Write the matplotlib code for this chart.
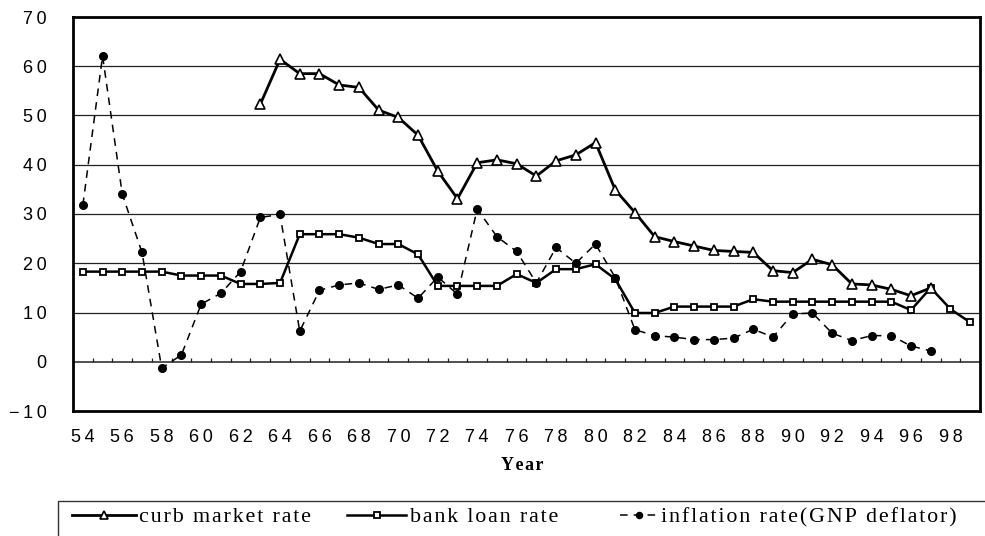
import numpy as np
import matplotlib
matplotlib.use("Agg")
import matplotlib.pyplot as plt
from matplotlib.patches import Rectangle

years = list(range(54, 100))

curb_years = list(range(63, 98))
curb_rate = [52.3, 61.4, 58.5, 58.5, 56.2, 55.7, 51.1, 49.6, 46.0, 38.7,
             33.1, 40.4, 41.0, 40.2, 37.7, 40.8, 42.0, 44.5, 34.9, 30.3,
             25.4, 24.4, 23.5, 22.6, 22.4, 22.2, 18.5, 18.1, 20.8, 19.7,
             15.8, 15.6, 14.7, 13.4, 15.0]

bank_years = list(range(54, 100))
bank_rate = [18.3, 18.3, 18.3, 18.3, 18.3, 17.5, 17.5, 17.5, 15.8, 15.8,
             16.0, 25.9, 25.9, 25.9, 25.2, 23.9, 23.9, 21.8, 15.4, 15.4,
             15.4, 15.4, 17.8, 16.0, 18.8, 18.8, 19.8, 16.8, 9.9, 9.9,
             11.2, 11.2, 11.2, 11.2, 12.7, 12.2, 12.2, 12.2, 12.2, 12.2,
             12.2, 12.2, 10.5, 15.0, 10.7, 8.0]

infl_years = list(range(54, 98))
infl_rate = [31.8, 62.1, 34.0, 22.2, -1.3, 1.4, 11.7, 13.9, 18.3, 29.3,
             29.9, 6.2, 14.5, 15.6, 16.0, 14.7, 15.6, 12.9, 17.2, 13.7,
             31.0, 25.4, 22.4, 16.0, 23.2, 20.0, 23.9, 17.1, 6.5, 5.3,
             5.0, 4.5, 4.5, 4.8, 6.6, 5.0, 9.7, 9.9, 5.8, 4.3,
             5.3, 5.3, 3.2, 2.2]

xtick_labels = [str(y) for y in range(54, 100, 2)]
ytick_values = list(range(-10, 71, 10))

series_labels = ["curb market rate", "bank loan rate", "inflation rate(GNP deflator)"]


def spaced(s, sep="\u2009"):
    return sep.join(list(s))


SANS = ["Liberation Sans", "DejaVu Sans"]
SERIF = ["Liberation Serif", "DejaVu Serif"]

fig = plt.figure(figsize=(9.85, 5.36), dpi=100)
ax = fig.add_axes([73/985, 1 - 411/536, (980-73)/985, (411-17)/536])

ax.set_xlim(years[0] - 0.5, years[-1] + 0.5)
ax.set_ylim(-10, 70)

for v in ytick_values[1:-1]:
    ax.axhline(v, color="#222222", lw=0.9 if v != 0 else 1.1, zorder=1)

# small category tick marks on the zero line
bounds = np.arange(years[0] + 0.5, years[-1] + 0.5, 1)
ax.vlines(bounds, 0, 0.7, color="#222222", lw=0.9, zorder=1)

l1, = ax.plot(curb_years, curb_rate, color="black", lw=2.0, marker="^",
              markersize=6.5, markerfacecolor="white", markeredgecolor="black",
              markeredgewidth=1.2, zorder=4, label=spaced(series_labels[0], "\u200a"))
l2, = ax.plot(bank_years, bank_rate, color="black", lw=1.8, marker="s",
              markersize=5, markerfacecolor="white", markeredgecolor="black",
              markeredgewidth=1.3, zorder=3, label=spaced(series_labels[1], "\u200a"))
l3, = ax.plot(infl_years, infl_rate, color="black", lw=1.1, ls=(0, (5, 4)),
              marker="o", markersize=5.5, markerfacecolor="black",
              markeredgecolor="black", zorder=5, label=spaced(series_labels[2], "\u200a"))

ax.set_yticks(ytick_values)
ax.set_yticklabels([spaced(str(v).replace("-", "\u2212")) for v in ytick_values],
                   fontsize=13, family=SANS)
ax.set_xticks(list(range(54, 100, 2)))
ax.set_xticklabels([spaced(t) for t in xtick_labels], fontsize=13, family=SANS)
ax.tick_params(axis="y", length=0, pad=19)
ax.tick_params(axis="x", length=0, pad=13)

for s in ax.spines.values():
    s.set_linewidth(2.0)
    s.set_color("black")

fig.text(522/985, 1 - 465/536, spaced("Year", "\u200a"), ha="center", va="center",
         fontsize=13, fontweight="bold", family=SERIF)

# legend box
fig.add_artist(Rectangle((58/985, -0.2), 1.0, 0.2 + (536-501)/536,
                         transform=fig.transFigure, fill=False,
                         edgecolor="#333333", lw=1.0))

ly = 1 - 517/536
leg_specs = [(l1, 72, 2.9), (l2, 347, 2.7), (l3, 620, 1.7)]
for h, xpx, hl in leg_specs:
    fig.legend(handles=[h], loc="center left",
               bbox_to_anchor=(xpx/985, ly), frameon=False,
               prop={"family": SERIF, "size": 15.8},
               handlelength=hl, handletextpad=0.15, borderpad=0,
               borderaxespad=0, markerscale=0.8)

fig.savefig("out.png", dpi=100)
